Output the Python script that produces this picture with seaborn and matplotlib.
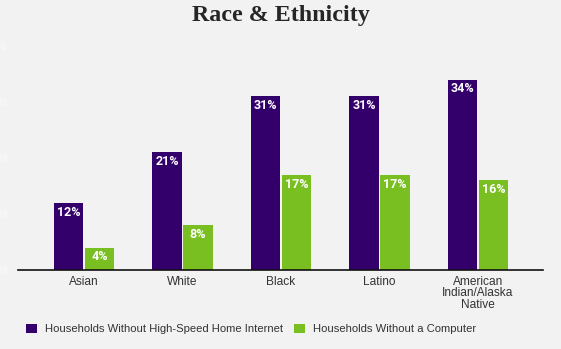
import matplotlib
matplotlib.use("Agg")
import matplotlib.pyplot as plt
import seaborn as sns
import pandas as pd
from matplotlib.patches import Patch

categories = ["Asian", "White", "Black", "Latino", "American\nIndian/Alaska\nNative"]
series_names = ["Households Without High-Speed Home Internet", "Households Without a Computer"]
internet = [12, 21, 31, 31, 34]
computer = [4, 8, 17, 17, 16]
yticks = [0, 10, 20, 30, 40]
colors = ["#33006b", "#7abf21"]

df = pd.DataFrame({
    "cat": categories * 2,
    "series": [series_names[0]] * 5 + [series_names[1]] * 5,
    "val": internet + computer,
})

sns.set_style("white")
plt.rcParams["font.family"] = ["Liberation Sans", "DejaVu Sans"]

fig = plt.figure(figsize=(5.61, 3.49), dpi=100, facecolor="#f2f2f2")
ax = fig.add_axes([18/561, (349-270)/349, (543-18)/561, 224/349])
ax.set_facecolor("#f2f2f2")

sns.barplot(data=df, x="cat", y="val", hue="series", order=categories,
            hue_order=series_names, palette=colors, width=0.63, gap=0.06,
            ax=ax, legend=False, saturation=1, edgecolor="none")

for cont in ax.containers:
    for bar in cont:
        h = bar.get_height()
        ax.annotate(f"{h:.0f}%", (bar.get_x() + bar.get_width()/2, h),
                    xytext=(0, -2), textcoords="offset points",
                    ha="center", va="top", color="white", fontsize=9,
                    fontweight="bold", family=["Roboto", "DejaVu Sans"])

ax.set_xlim(-0.67, 4.66)
ax.set_ylim(0, 40)
ax.set_yticks(yticks)
ax.set_yticklabels([f"{t}%" for t in yticks], color="#fafafa", fontsize=9)
ax.tick_params(axis="y", length=0, pad=7)
ax.tick_params(axis="x", length=0, pad=4, labelsize=8.6, labelcolor="#333333")
ax.set_xlabel("")
ax.set_ylabel("")
for s in ["top", "right", "left"]:
    ax.spines[s].set_visible(False)
ax.spines["bottom"].set_color("#111111")
ax.spines["bottom"].set_linewidth(1.2)
for lbl in ax.get_xticklabels():
    lbl.set_linespacing(0.95)

fig.text(0.5, 1 - 16/349, "Race & Ethnicity", ha="center", va="center",
         fontsize=17.3, fontweight="bold", family=["Liberation Serif", "DejaVu Serif"])

handles = [Patch(facecolor=c, edgecolor="none") for c in colors]
fig.legend(handles, series_names, loc="center left",
           bbox_to_anchor=(16/561, 1 - 329/349), ncol=2, frameon=False,
           fontsize=8.1, handlelength=0.95, handleheight=0.95, handletextpad=0.7,
           columnspacing=1.0, labelcolor="#333333")

fig.savefig("out.png", dpi=100, facecolor="#f2f2f2")
